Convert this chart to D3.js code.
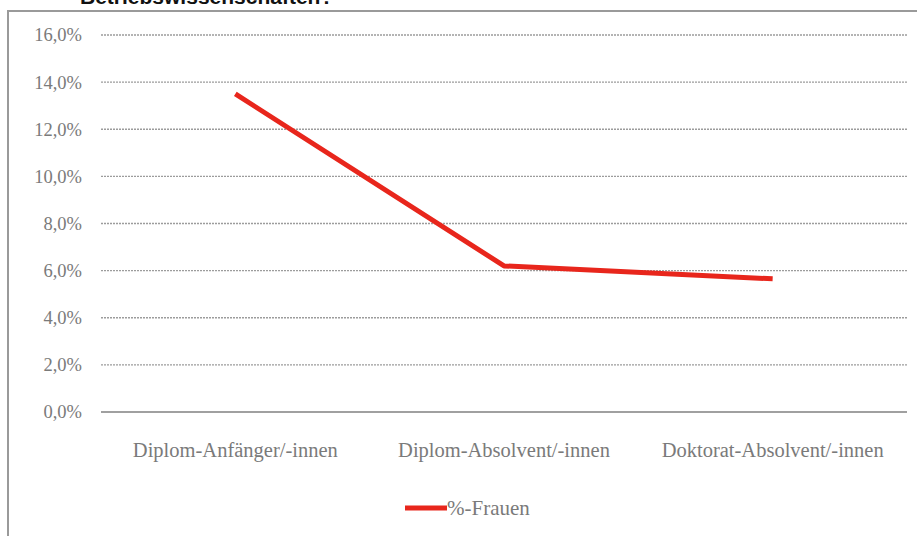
<!DOCTYPE html>
<html><head><meta charset="utf-8">
<script src="https://cdn.jsdelivr.net/npm/d3@7"></script>
<style>html,body{margin:0;padding:0;background:#fff;overflow:hidden}</style>
</head><body>
<svg id="c" width="917" height="536"></svg>
<script>
const categories = ["Diplom-Anfänger/-innen", "Diplom-Absolvent/-innen", "Doktorat-Absolvent/-innen"];
const seriesName = "%-Frauen";
const values = [13.5, 6.2, 5.65];
const yTicks = [0, 2, 4, 6, 8, 10, 12, 14, 16];
const title = "Betriebswissenschaften?";

const svg = d3.select("#c");
const font = "'Liberation Serif', 'DejaVu Serif', serif";
const textCol = "#7a7a7a";

// title (cut at top as in the reference)
svg.append("text").attr("x", 80).attr("y", 4)
  .attr("font-family", "'Liberation Sans', Arial, sans-serif")
  .attr("font-weight", "bold").attr("font-size", 21).attr("fill", "#111")
  .text(title);

// frame
svg.append("rect").attr("x", 8).attr("y", 11).attr("width", 940).attr("height", 600)
  .attr("fill", "none").attr("stroke", "#9a9a9a").attr("stroke-width", 2);

const x = d3.scaleBand().domain(categories).range([101, 907]).padding(0);
const y = d3.scaleLinear().domain([0, 16]).range([412, 35]);

// grid
svg.append("g").selectAll("line").data(yTicks.filter(d => d > 0)).join("line")
  .attr("x1", 101).attr("x2", 907)
  .attr("y1", d => y(d)).attr("y2", d => y(d))
  .attr("stroke", "#9c9c9c").attr("stroke-width", 1.4)
  .attr("stroke-dasharray", "2,1");

// y axis labels
const yAxis = d3.axisLeft(y).tickValues(yTicks).tickSize(0).tickPadding(0)
  .tickFormat(d => d3.format(".1f")(d).replace(".", ",") + "%");
const ya = svg.append("g").attr("transform", "translate(82,0)").call(yAxis);
ya.select(".domain").remove();
ya.selectAll("text").attr("font-family", font).attr("font-size", 18.5).attr("fill", textCol);

// x axis baseline
svg.append("line").attr("x1", 101).attr("x2", 907).attr("y1", y(0)).attr("y2", y(0))
  .attr("stroke", "#a0a0a0").attr("stroke-width", 2.2);

const xAxis = d3.axisBottom(x).tickSize(0).tickPadding(0);
const xa = svg.append("g").attr("transform", "translate(0,457)").call(xAxis);
xa.select(".domain").remove();
xa.selectAll("text").attr("font-family", font).attr("font-size", 20.5).attr("fill", textCol)
  .attr("dy", "0");

// line
const line = d3.line().x((d, i) => x(categories[i]) + x.bandwidth() / 2).y(d => y(d));
svg.append("path").datum(values).attr("d", line)
  .attr("fill", "none").attr("stroke", "#e8261c").attr("stroke-width", 5)
  .attr("stroke-linejoin", "round");

// legend
const lg = svg.append("g");
lg.append("line").attr("x1", 405).attr("x2", 447).attr("y1", 508).attr("y2", 508)
  .attr("stroke", "#e8261c").attr("stroke-width", 5);
lg.append("text").attr("x", 447).attr("y", 515).attr("font-family", font)
  .attr("font-size", 21).attr("fill", textCol).text(seriesName);
</script>
</body></html>
